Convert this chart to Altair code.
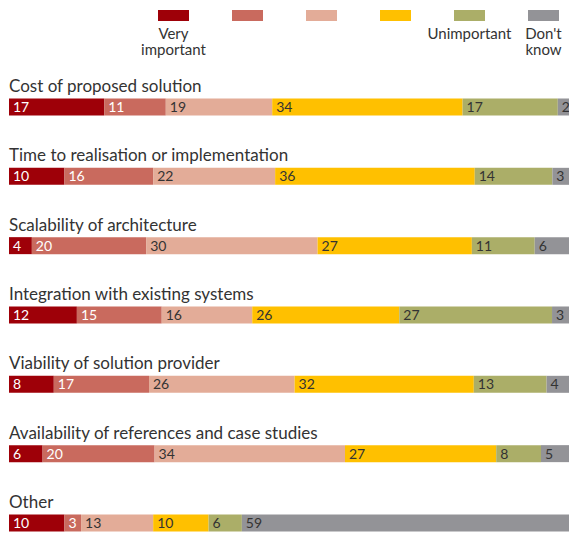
import altair as alt
import pandas as pd

categories = [
    "Cost of proposed solution",
    "Time to realisation or implementation",
    "Scalability of architecture",
    "Integration with existing systems",
    "Viability of solution provider",
    "Availability of references and case studies",
    "Other",
]
very_important = [17, 10, 4, 12, 8, 6, 10]
level2 = [11, 16, 20, 15, 17, 20, 3]
level3 = [19, 22, 30, 16, 26, 34, 13]
level4 = [34, 36, 27, 26, 32, 27, 10]
unimportant = [17, 14, 11, 27, 13, 8, 6]
dont_know = [2, 3, 6, 3, 4, 5, 59]

levels = [1, 2, 3, 4, 5, 6]
legend_line1 = ["Very", "", "", "", "Unimportant", "Don't"]
legend_line2 = ["important", "", "", "", "", "know"]
colors = ["#9E0008", "#C96A5E", "#E3AC98", "#FFC000", "#ABAE68", "#939397"]

series = [very_important, level2, level3, level4, unimportant, dont_know]
rows = []
for ci, cat in enumerate(categories):
    for li, s in enumerate(series):
        rows.append({"category": cat, "lvl": levels[li], "value": s[ci]})
df = pd.DataFrame(rows)
titles_df = pd.DataFrame({"category": categories})
legend_df = pd.DataFrame({"lvl": levels, "line1": legend_line1, "line2": legend_line2})

FONT = "Lato"
TXT = "#333333"

yenc = alt.Y("category:N", sort=categories, axis=None,
             scale=alt.Scale(paddingInner=0.7548, paddingOuter=0.7285, align=0.975))
color = alt.Color("lvl:O", scale=alt.Scale(domain=levels, range=colors), legend=None)

base = alt.Chart(df).transform_stack(
    stack="value", groupby=["category"], sort=[alt.SortField("lvl")],
    as_=["x0", "x1"], offset="normalize"
)
xenc = alt.X("x0:Q", axis=None, scale=alt.Scale(domain=[0, 1], nice=False, zero=True))

bars = base.mark_bar().encode(x=xenc, x2="x1:Q", y=yenc, color=color)
labels = base.mark_text(align="left", baseline="middle", dx=4, dy=1, fontSize=14, font=FONT).encode(
    x=xenc, y=yenc, text="value:Q",
    color=alt.condition("datum.lvl <= 2", alt.value("white"), alt.value(TXT)),
)
titles = alt.Chart(titles_df).mark_text(
    align="left", baseline="alphabetic", dy=-15, fontSize=17, font=FONT, color=TXT
).encode(x=alt.datum(0), y=yenc, text="category:N")

main = alt.layer(bars, labels, titles)

# legend: a linear scale over legend slots, 74px per slot, 31px swatches
lscale = alt.Scale(domain=[-1.223, 6.345], nice=False, zero=False)
legend_base = alt.Chart(legend_df).transform_calculate(
    l0="datum.lvl - 0.2095", l1="datum.lvl + 0.2095"
)
leg_rect = legend_base.mark_rect().encode(
    x=alt.X("l0:Q", axis=None, scale=lscale), x2="l1:Q",
    y=alt.value(10), y2=alt.value(21), color=color
)
leg_text1 = legend_base.transform_filter("datum.line1 != ''").mark_text(
    align="center", baseline="alphabetic", fontSize=15, font=FONT, color=TXT
).encode(x=alt.X("lvl:Q", axis=None, scale=lscale), y=alt.value(39), text="line1:N")
leg_text2 = legend_base.transform_filter("datum.line2 != ''").mark_text(
    align="center", baseline="alphabetic", fontSize=15, font=FONT, color=TXT
).encode(x=alt.X("lvl:Q", axis=None, scale=lscale), y=alt.value(55), text="line2:N")
legend = alt.layer(leg_rect, leg_text1, leg_text2)

chart = alt.layer(main, legend).resolve_scale(x="independent").properties(
    width=560, height=534,
    padding={"left": 9, "top": 0, "right": 0, "bottom": 0},
    autosize=alt.AutoSizeParams(type="none"),
).configure_view(stroke=None)

chart.save("out.html", embed_options={"renderer": "svg", "actions": False})
